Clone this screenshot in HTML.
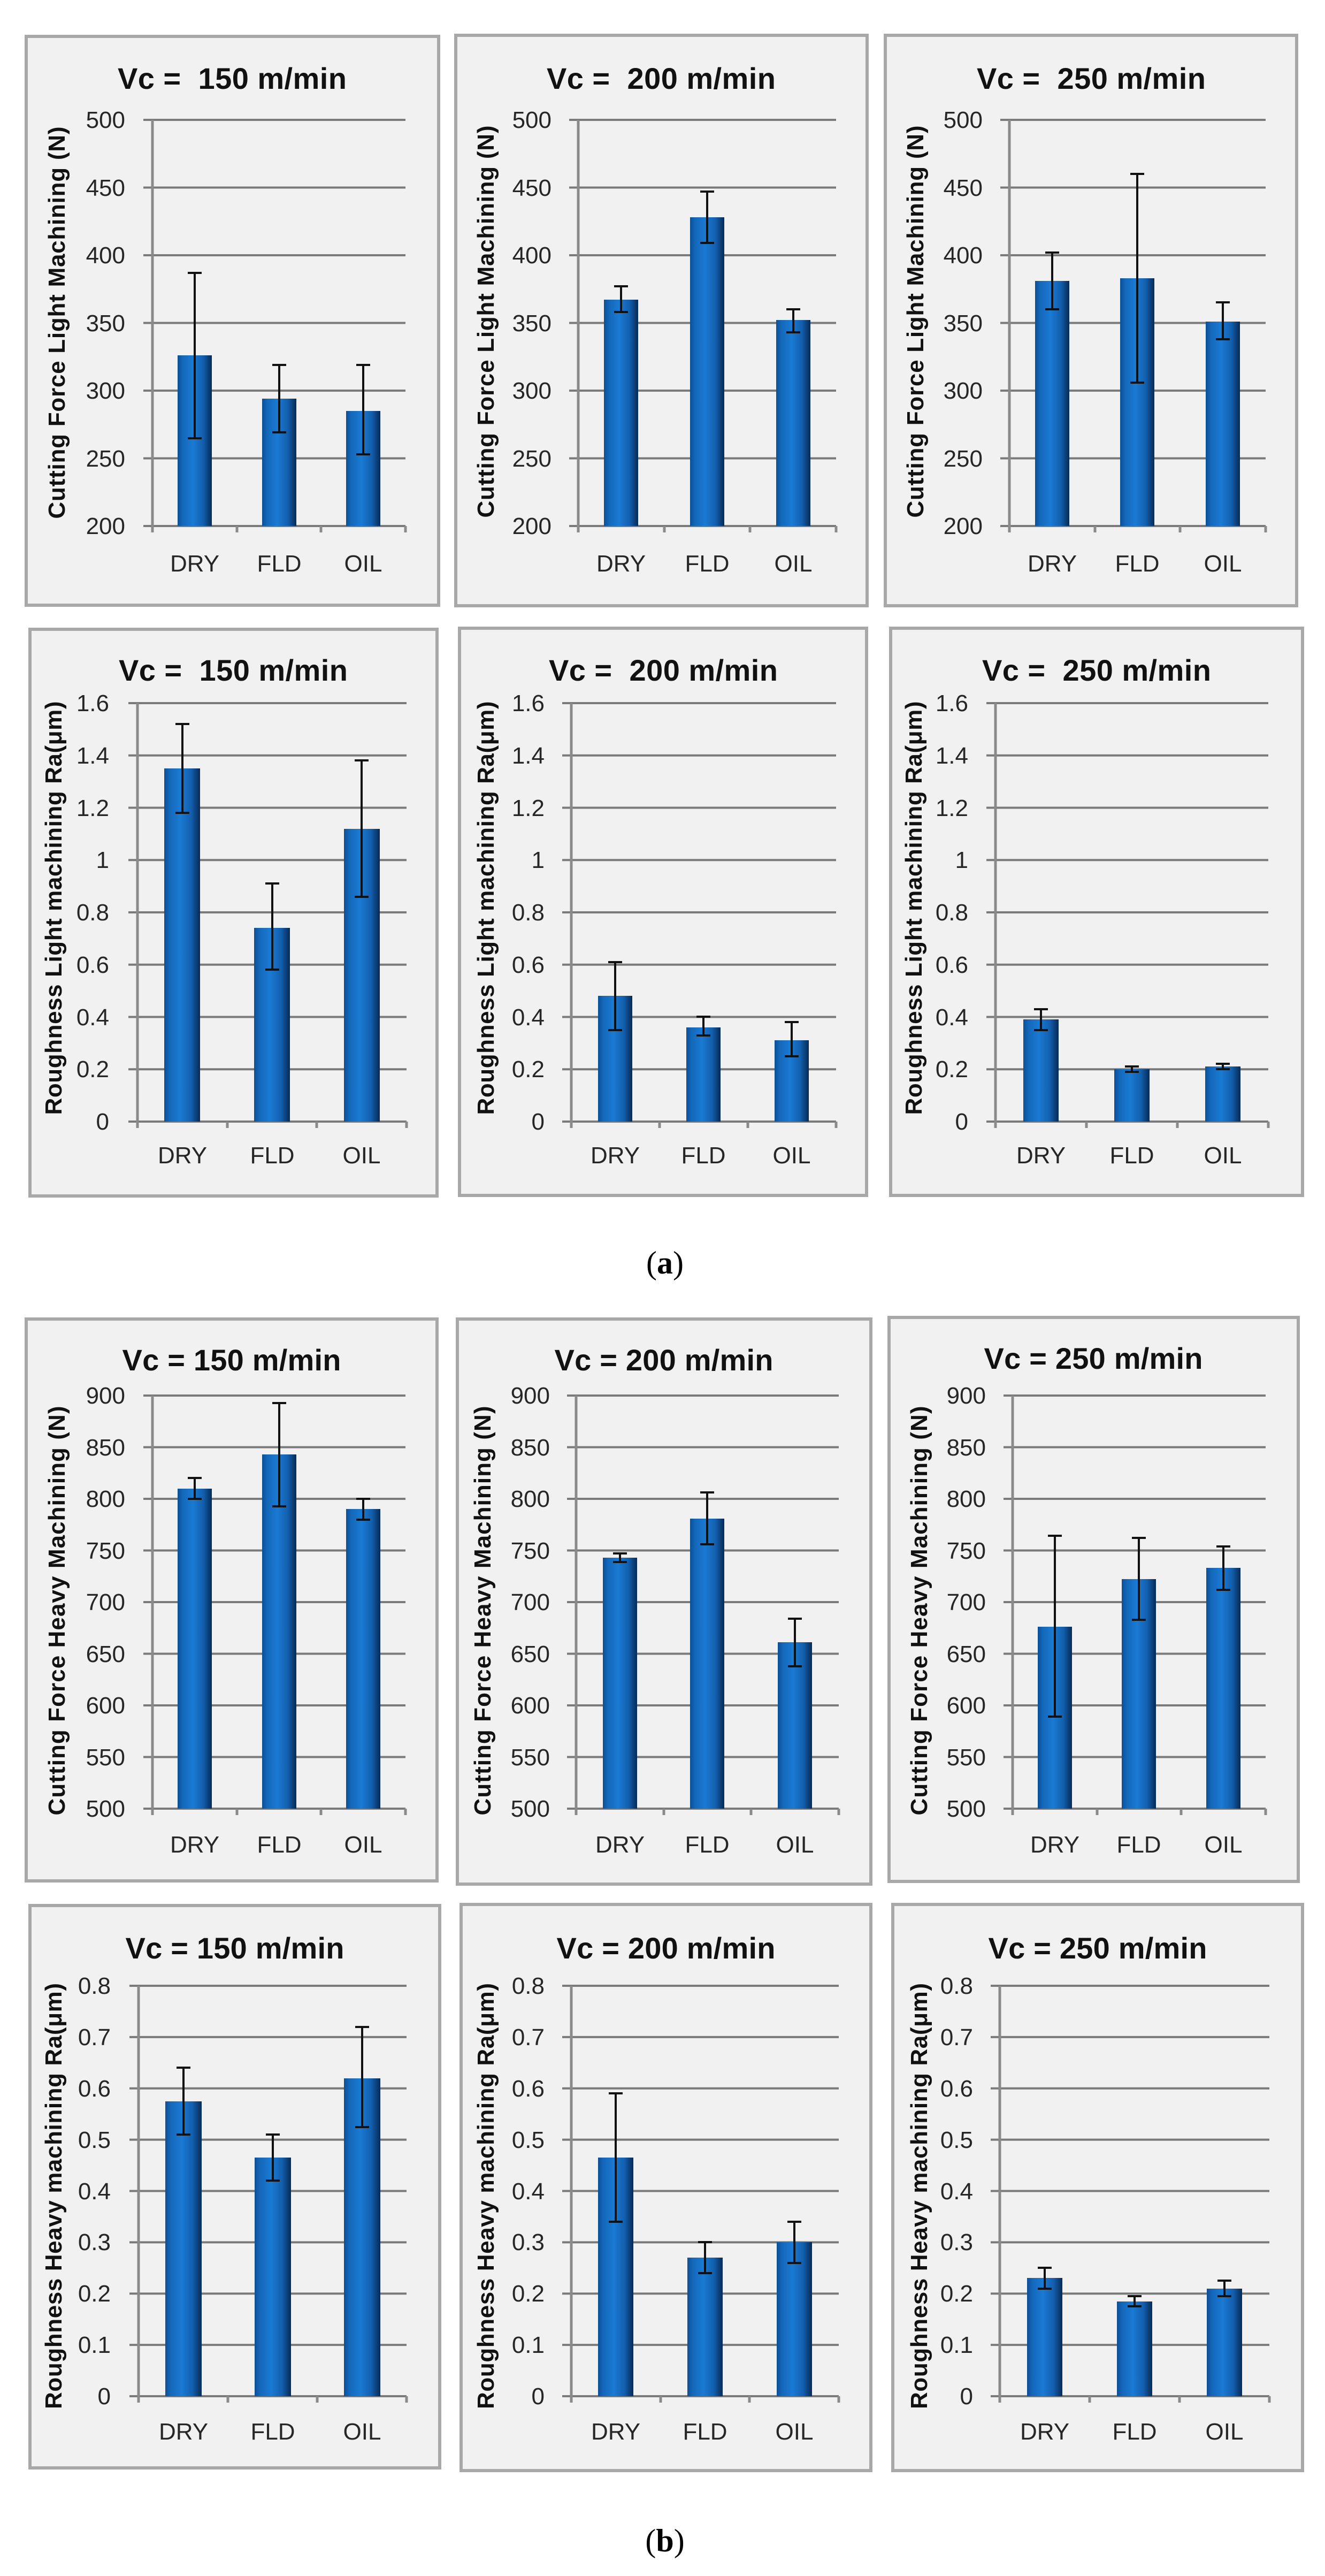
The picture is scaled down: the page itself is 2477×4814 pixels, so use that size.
<!DOCTYPE html>
<html><head><meta charset="utf-8"><style>
html,body{margin:0;padding:0;background:#fff;}
svg{display:block;}
text{font-family:"Liberation Sans",sans-serif;fill:#262626;white-space:pre;}
.t{font-weight:bold;font-size:56px;text-anchor:middle;fill:#111;}
.k{font-size:44px;text-anchor:end;fill:#333;}
.x{font-size:44px;text-anchor:middle;fill:#333;}
.y{font-weight:bold;font-size:44px;text-anchor:middle;fill:#111;}
.p{fill:#f1f1f1;stroke:#a8a8a8;stroke-width:6;}
.g{stroke:#7a7a7a;stroke-width:4;}
.a{stroke:#8a8a8a;stroke-width:5;}
.b{fill:url(#bg);}
.e{stroke:#111;stroke-width:4;fill:none;}
.h{fill:#3a9ae8;opacity:.6;}
</style></head><body>
<svg width="2477" height="4814" viewBox="0 0 2477 4814" xmlns="http://www.w3.org/2000/svg">
<defs>
<linearGradient id="bg" x1="0" x2="1" y1="0" y2="0">
<stop offset="0" stop-color="#0c4f98"/><stop offset="0.15" stop-color="#1468ba"/><stop offset="0.45" stop-color="#1a7ad3"/><stop offset="0.75" stop-color="#135fae"/><stop offset="1" stop-color="#072a55"/>
</linearGradient>
</defs>
<rect width="2477" height="4814" fill="#fff"/>

<!-- ROW 1 COL 1 -->
<rect class="p" x="49" y="68" width="771" height="1063"/>
<text class="t" x="434" y="166" textLength="428">Vc =  150 m/min</text>
<g class="g"><line x1="268" x2="758" y1="224" y2="224"/><line x1="268" x2="758" y1="350.5" y2="350.5"/><line x1="268" x2="758" y1="477" y2="477"/><line x1="268" x2="758" y1="603.5" y2="603.5"/><line x1="268" x2="758" y1="730" y2="730"/><line x1="268" x2="758" y1="856.5" y2="856.5"/><line x1="268" x2="758" y1="983" y2="983"/></g>
<g class="a"><line x1="285" x2="285" y1="224" y2="995"/><line x1="443" x2="443" y1="983" y2="995"/><line x1="600" x2="600" y1="983" y2="995"/><line x1="758" x2="758" y1="983" y2="995"/></g>
<g class="k"><text x="234" y="239">500</text><text x="234" y="366">450</text><text x="234" y="492">400</text><text x="234" y="619">350</text><text x="234" y="745">300</text><text x="234" y="872">250</text><text x="234" y="998">200</text></g>
<text class="y" transform="translate(106,603) rotate(-90)" y="15" textLength="733">Cutting Force Light Machining (N)</text>
<rect class="b" x="332" y="664" width="64" height="319"/><rect class="b" x="490" y="745" width="64" height="238"/><rect class="b" x="647" y="768" width="64" height="215"/>
<path class="e" d="M364 510V819M351 510h26M351 819h26M522 682V808M509 682h26M509 808h26M679 682V849M666 682h26M666 849h26"/>
<g class="x"><text x="364" y="1068">DRY</text><text x="522" y="1068">FLD</text><text x="679" y="1068">OIL</text></g>

<!-- ROW 1 COL 2 -->
<rect class="p" x="852" y="66" width="769" height="1066"/>
<text class="t" x="1236" y="166" textLength="428">Vc =  200 m/min</text>
<g class="g"><line x1="1064" x2="1563" y1="224" y2="224"/><line x1="1064" x2="1563" y1="350.5" y2="350.5"/><line x1="1064" x2="1563" y1="477" y2="477"/><line x1="1064" x2="1563" y1="603.5" y2="603.5"/><line x1="1064" x2="1563" y1="730" y2="730"/><line x1="1064" x2="1563" y1="856.5" y2="856.5"/><line x1="1064" x2="1563" y1="983" y2="983"/></g>
<g class="a"><line x1="1081" x2="1081" y1="224" y2="995"/><line x1="1242" x2="1242" y1="983" y2="995"/><line x1="1402" x2="1402" y1="983" y2="995"/><line x1="1563" x2="1563" y1="983" y2="995"/></g>
<g class="k"><text x="1031" y="239">500</text><text x="1031" y="366">450</text><text x="1031" y="492">400</text><text x="1031" y="619">350</text><text x="1031" y="745">300</text><text x="1031" y="872">250</text><text x="1031" y="998">200</text></g>
<text class="y" transform="translate(908,601) rotate(-90)" y="15" textLength="733">Cutting Force Light Machining (N)</text>
<rect class="b" x="1129" y="560" width="64" height="423"/><rect class="b" x="1290" y="406" width="64" height="577"/><rect class="b" x="1451" y="598" width="64" height="385"/>
<path class="e" d="M1161 535V583M1148 535h26M1148 583h26M1322 358V454M1309 358h26M1309 454h26M1483 578V621M1470 578h26M1470 621h26"/>
<g class="x"><text x="1161" y="1068">DRY</text><text x="1322" y="1068">FLD</text><text x="1483" y="1068">OIL</text></g>

<!-- ROW 1 COL 3 -->
<rect class="p" x="1655" y="66" width="769" height="1066"/>
<text class="t" x="2040" y="166" textLength="428">Vc =  250 m/min</text>
<g class="g"><line x1="1870" x2="2366" y1="224" y2="224"/><line x1="1870" x2="2366" y1="350.5" y2="350.5"/><line x1="1870" x2="2366" y1="477" y2="477"/><line x1="1870" x2="2366" y1="603.5" y2="603.5"/><line x1="1870" x2="2366" y1="730" y2="730"/><line x1="1870" x2="2366" y1="856.5" y2="856.5"/><line x1="1870" x2="2366" y1="983" y2="983"/></g>
<g class="a"><line x1="1887" x2="1887" y1="224" y2="995"/><line x1="2047" x2="2047" y1="983" y2="995"/><line x1="2206" x2="2206" y1="983" y2="995"/><line x1="2366" x2="2366" y1="983" y2="995"/></g>
<g class="k"><text x="1837" y="239">500</text><text x="1837" y="366">450</text><text x="1837" y="492">400</text><text x="1837" y="619">350</text><text x="1837" y="745">300</text><text x="1837" y="872">250</text><text x="1837" y="998">200</text></g>
<text class="y" transform="translate(1711,601) rotate(-90)" y="15" textLength="733">Cutting Force Light Machining (N)</text>
<rect class="b" x="1935" y="525" width="64" height="458"/><rect class="b" x="2094" y="520" width="64" height="463"/><rect class="b" x="2254" y="601" width="64" height="382"/>
<path class="e" d="M1967 472V578M1954 472h26M1954 578h26M2126 325V715M2113 325h26M2113 715h26M2286 565V634M2273 565h26M2273 634h26"/>
<g class="x"><text x="1967" y="1068">DRY</text><text x="2126" y="1068">FLD</text><text x="2286" y="1068">OIL</text></g>

<!-- ROW 2 COL 1 -->
<rect class="p" x="56" y="1176" width="761" height="1059"/>
<text class="t" x="436" y="1272" textLength="428">Vc =  150 m/min</text>
<g class="g"><line x1="240" x2="760" y1="1314" y2="1314"/><line x1="240" x2="760" y1="1411.75" y2="1411.75"/><line x1="240" x2="760" y1="1509.5" y2="1509.5"/><line x1="240" x2="760" y1="1607.25" y2="1607.25"/><line x1="240" x2="760" y1="1705" y2="1705"/><line x1="240" x2="760" y1="1802.75" y2="1802.75"/><line x1="240" x2="760" y1="1900.5" y2="1900.5"/><line x1="240" x2="760" y1="1998.25" y2="1998.25"/><line x1="240" x2="760" y1="2096" y2="2096"/></g>
<g class="a"><line x1="257" x2="257" y1="1314" y2="2108"/><line x1="425" x2="425" y1="2096" y2="2108"/><line x1="592" x2="592" y1="2096" y2="2108"/><line x1="760" x2="760" y1="2096" y2="2108"/></g>
<g class="k"><text x="204" y="1329">1.6</text><text x="204" y="1427">1.4</text><text x="204" y="1525">1.2</text><text x="204" y="1622">1</text><text x="204" y="1720">0.8</text><text x="204" y="1818">0.6</text><text x="204" y="1916">0.4</text><text x="204" y="2013">0.2</text><text x="204" y="2111">0</text></g>
<text class="y" transform="translate(100,1697) rotate(-90)" y="15" textLength="773">Roughness Light machining Ra(μm)</text>
<rect class="b" x="307" y="1436" width="67" height="660"/><rect class="b" x="475" y="1734" width="67" height="362"/><rect class="b" x="643" y="1549" width="67" height="547"/>
<path class="e" d="M341 1353V1519M328 1353h26M328 1519h26M509 1651V1812M496 1651h26M496 1812h26M676 1421V1676M663 1421h26M663 1676h26"/>
<g class="x"><text x="341" y="2174">DRY</text><text x="509" y="2174">FLD</text><text x="676" y="2174">OIL</text></g>

<!-- ROW 2 COL 2 -->
<rect class="p" x="859" y="1174" width="761" height="1060"/>
<text class="t" x="1240" y="1272" textLength="428">Vc =  200 m/min</text>
<g class="g"><line x1="1051" x2="1563" y1="1314" y2="1314"/><line x1="1051" x2="1563" y1="1411.75" y2="1411.75"/><line x1="1051" x2="1563" y1="1509.5" y2="1509.5"/><line x1="1051" x2="1563" y1="1607.25" y2="1607.25"/><line x1="1051" x2="1563" y1="1705" y2="1705"/><line x1="1051" x2="1563" y1="1802.75" y2="1802.75"/><line x1="1051" x2="1563" y1="1900.5" y2="1900.5"/><line x1="1051" x2="1563" y1="1998.25" y2="1998.25"/><line x1="1051" x2="1563" y1="2096" y2="2096"/></g>
<g class="a"><line x1="1068" x2="1068" y1="1314" y2="2108"/><line x1="1233" x2="1233" y1="2096" y2="2108"/><line x1="1398" x2="1398" y1="2096" y2="2108"/><line x1="1563" x2="1563" y1="2096" y2="2108"/></g>
<g class="k"><text x="1018" y="1329">1.6</text><text x="1018" y="1427">1.4</text><text x="1018" y="1525">1.2</text><text x="1018" y="1622">1</text><text x="1018" y="1720">0.8</text><text x="1018" y="1818">0.6</text><text x="1018" y="1916">0.4</text><text x="1018" y="2013">0.2</text><text x="1018" y="2111">0</text></g>
<text class="y" transform="translate(908,1697) rotate(-90)" y="15" textLength="773">Roughness Light machining Ra(μm)</text>
<rect class="b" x="1118" y="1861" width="64" height="235"/><rect class="b" x="1283" y="1920" width="64" height="176"/><rect class="b" x="1448" y="1944" width="64" height="152"/>
<path class="e" d="M1150 1798V1925M1137 1798h26M1137 1925h26M1315 1900V1935M1302 1900h26M1302 1935h26M1480 1910V1974M1467 1910h26M1467 1974h26"/>
<g class="x"><text x="1150" y="2174">DRY</text><text x="1315" y="2174">FLD</text><text x="1480" y="2174">OIL</text></g>

<!-- ROW 2 COL 3 -->
<rect class="p" x="1665" y="1174" width="770" height="1060"/>
<text class="t" x="2050" y="1272" textLength="428">Vc =  250 m/min</text>
<g class="g"><line x1="1844" x2="2371" y1="1314" y2="1314"/><line x1="1844" x2="2371" y1="1411.75" y2="1411.75"/><line x1="1844" x2="2371" y1="1509.5" y2="1509.5"/><line x1="1844" x2="2371" y1="1607.25" y2="1607.25"/><line x1="1844" x2="2371" y1="1705" y2="1705"/><line x1="1844" x2="2371" y1="1802.75" y2="1802.75"/><line x1="1844" x2="2371" y1="1900.5" y2="1900.5"/><line x1="1844" x2="2371" y1="1998.25" y2="1998.25"/><line x1="1844" x2="2371" y1="2096" y2="2096"/></g>
<g class="a"><line x1="1861" x2="1861" y1="1314" y2="2108"/><line x1="2031" x2="2031" y1="2096" y2="2108"/><line x1="2201" x2="2201" y1="2096" y2="2108"/><line x1="2371" x2="2371" y1="2096" y2="2108"/></g>
<g class="k"><text x="1810" y="1329">1.6</text><text x="1810" y="1427">1.4</text><text x="1810" y="1525">1.2</text><text x="1810" y="1622">1</text><text x="1810" y="1720">0.8</text><text x="1810" y="1818">0.6</text><text x="1810" y="1916">0.4</text><text x="1810" y="2013">0.2</text><text x="1810" y="2111">0</text></g>
<text class="y" transform="translate(1708,1697) rotate(-90)" y="15" textLength="773">Roughness Light machining Ra(μm)</text>
<rect class="b" x="1913" y="1905" width="66" height="191"/><rect class="b" x="2083" y="1998" width="66" height="98"/><rect class="b" x="2253" y="1993" width="66" height="103"/>
<path class="e" d="M1946 1886V1925M1933 1886h26M1933 1925h26M2116 1993V2003M2103 1993h26M2103 2003h26M2286 1988V1998M2273 1988h26M2273 1998h26"/>
<g class="x"><text x="1946" y="2174">DRY</text><text x="2116" y="2174">FLD</text><text x="2286" y="2174">OIL</text></g>

<text x="1243" y="2380" style="font-family:'Liberation Serif',serif;font-size:60px;text-anchor:middle;fill:#000">(<tspan font-weight="bold">a</tspan>)</text>

<!-- ROW 3 COL 1 -->
<rect class="p" x="49" y="2465" width="768" height="1050"/>
<text class="t" x="433" y="2561" textLength="409">Vc = 150 m/min</text>
<g class="g"><line x1="268" x2="758" y1="2608" y2="2608"/><line x1="268" x2="758" y1="2704.5" y2="2704.5"/><line x1="268" x2="758" y1="2801" y2="2801"/><line x1="268" x2="758" y1="2897.5" y2="2897.5"/><line x1="268" x2="758" y1="2994" y2="2994"/><line x1="268" x2="758" y1="3090.5" y2="3090.5"/><line x1="268" x2="758" y1="3187" y2="3187"/><line x1="268" x2="758" y1="3283.5" y2="3283.5"/><line x1="268" x2="758" y1="3380" y2="3380"/></g>
<g class="a"><line x1="285" x2="285" y1="2608" y2="3392"/><line x1="443" x2="443" y1="3380" y2="3392"/><line x1="600" x2="600" y1="3380" y2="3392"/><line x1="758" x2="758" y1="3380" y2="3392"/></g>
<g class="k"><text x="234" y="2623">900</text><text x="234" y="2720">850</text><text x="234" y="2816">800</text><text x="234" y="2913">750</text><text x="234" y="3009">700</text><text x="234" y="3106">650</text><text x="234" y="3202">600</text><text x="234" y="3299">550</text><text x="234" y="3395">500</text></g>
<text class="y" transform="translate(106,3010) rotate(-90)" y="15" textLength="765">Cutting Force Heavy Machining (N)</text>
<rect class="b" x="332" y="2782" width="64" height="598"/><rect class="b" x="490" y="2718" width="64" height="662"/><rect class="b" x="647" y="2820" width="64" height="560"/>
<path class="e" d="M364 2762V2801M351 2762h26M351 2801h26M522 2622V2815M509 2622h26M509 2815h26M679 2801V2840M666 2801h26M666 2840h26"/>
<g class="x"><text x="364" y="3462">DRY</text><text x="522" y="3462">FLD</text><text x="679" y="3462">OIL</text></g>

<!-- ROW 3 COL 2 -->
<rect class="p" x="855" y="2465" width="773" height="1056"/>
<text class="t" x="1241" y="2561" textLength="409">Vc = 200 m/min</text>
<g class="g"><line x1="1060" x2="1568" y1="2608" y2="2608"/><line x1="1060" x2="1568" y1="2704.5" y2="2704.5"/><line x1="1060" x2="1568" y1="2801" y2="2801"/><line x1="1060" x2="1568" y1="2897.5" y2="2897.5"/><line x1="1060" x2="1568" y1="2994" y2="2994"/><line x1="1060" x2="1568" y1="3090.5" y2="3090.5"/><line x1="1060" x2="1568" y1="3187" y2="3187"/><line x1="1060" x2="1568" y1="3283.5" y2="3283.5"/><line x1="1060" x2="1568" y1="3380" y2="3380"/></g>
<g class="a"><line x1="1077" x2="1077" y1="2608" y2="3392"/><line x1="1241" x2="1241" y1="3380" y2="3392"/><line x1="1404" x2="1404" y1="3380" y2="3392"/><line x1="1568" x2="1568" y1="3380" y2="3392"/></g>
<g class="k"><text x="1028" y="2623">900</text><text x="1028" y="2720">850</text><text x="1028" y="2816">800</text><text x="1028" y="2913">750</text><text x="1028" y="3009">700</text><text x="1028" y="3106">650</text><text x="1028" y="3202">600</text><text x="1028" y="3299">550</text><text x="1028" y="3395">500</text></g>
<text class="y" transform="translate(902,3010) rotate(-90)" y="15" textLength="765">Cutting Force Heavy Machining (N)</text>
<rect class="b" x="1127" y="2911" width="64" height="469"/><rect class="b" x="1290" y="2838" width="64" height="542"/><rect class="b" x="1454" y="3069" width="64" height="311"/>
<path class="e" d="M1159 2903V2919M1146 2903h26M1146 2919h26M1322 2789V2886M1309 2789h26M1309 2886h26M1486 3025V3114M1473 3025h26M1473 3114h26"/>
<g class="x"><text x="1159" y="3462">DRY</text><text x="1322" y="3462">FLD</text><text x="1486" y="3462">OIL</text></g>

<!-- ROW 3 COL 3 -->
<rect class="p" x="1662" y="2462" width="765" height="1054"/>
<text class="t" x="2044" y="2558" textLength="409">Vc = 250 m/min</text>
<g class="g"><line x1="1876" x2="2366" y1="2608" y2="2608"/><line x1="1876" x2="2366" y1="2704.5" y2="2704.5"/><line x1="1876" x2="2366" y1="2801" y2="2801"/><line x1="1876" x2="2366" y1="2897.5" y2="2897.5"/><line x1="1876" x2="2366" y1="2994" y2="2994"/><line x1="1876" x2="2366" y1="3090.5" y2="3090.5"/><line x1="1876" x2="2366" y1="3187" y2="3187"/><line x1="1876" x2="2366" y1="3283.5" y2="3283.5"/><line x1="1876" x2="2366" y1="3380" y2="3380"/></g>
<g class="a"><line x1="1893" x2="1893" y1="2608" y2="3392"/><line x1="2051" x2="2051" y1="3380" y2="3392"/><line x1="2208" x2="2208" y1="3380" y2="3392"/><line x1="2366" x2="2366" y1="3380" y2="3392"/></g>
<g class="k"><text x="1843" y="2623">900</text><text x="1843" y="2720">850</text><text x="1843" y="2816">800</text><text x="1843" y="2913">750</text><text x="1843" y="3009">700</text><text x="1843" y="3106">650</text><text x="1843" y="3202">600</text><text x="1843" y="3299">550</text><text x="1843" y="3395">500</text></g>
<text class="y" transform="translate(1718,3010) rotate(-90)" y="15" textLength="765">Cutting Force Heavy Machining (N)</text>
<rect class="b" x="1940" y="3040" width="64" height="340"/><rect class="b" x="2097" y="2951" width="64" height="429"/><rect class="b" x="2255" y="2930" width="64" height="450"/>
<path class="e" d="M1972 2870V3208M1959 2870h26M1959 3208h26M2129 2874V3027M2116 2874h26M2116 3027h26M2287 2890V2971M2274 2890h26M2274 2971h26"/>
<g class="x"><text x="1972" y="3462">DRY</text><text x="2129" y="3462">FLD</text><text x="2287" y="3462">OIL</text></g>

<!-- ROW 4 COL 1 -->
<rect class="p" x="56" y="3561" width="766" height="1051"/>
<text class="t" x="439" y="3660" textLength="409">Vc = 150 m/min</text>
<g class="g"><line x1="242" x2="760" y1="3711" y2="3711"/><line x1="242" x2="760" y1="3806.9" y2="3806.9"/><line x1="242" x2="760" y1="3902.75" y2="3902.75"/><line x1="242" x2="760" y1="3998.6" y2="3998.6"/><line x1="242" x2="760" y1="4094.5" y2="4094.5"/><line x1="242" x2="760" y1="4190.4" y2="4190.4"/><line x1="242" x2="760" y1="4286.25" y2="4286.25"/><line x1="242" x2="760" y1="4382.1" y2="4382.1"/><line x1="242" x2="760" y1="4478" y2="4478"/></g>
<g class="a"><line x1="259" x2="259" y1="3711" y2="4490"/><line x1="426" x2="426" y1="4478" y2="4490"/><line x1="593" x2="593" y1="4478" y2="4490"/><line x1="760" x2="760" y1="4478" y2="4490"/></g>
<g class="k"><text x="207" y="3726">0.8</text><text x="207" y="3822">0.7</text><text x="207" y="3918">0.6</text><text x="207" y="4014">0.5</text><text x="207" y="4110">0.4</text><text x="207" y="4205">0.3</text><text x="207" y="4301">0.2</text><text x="207" y="4397">0.1</text><text x="207" y="4493">0</text></g>
<text class="y" transform="translate(100,4104) rotate(-90)" y="15" textLength="796">Roughness Heavy machining Ra(μm)</text>
<rect class="b" x="309" y="3927" width="68" height="551"/><rect class="b" x="476" y="4032" width="68" height="446"/><rect class="b" x="643" y="3884" width="68" height="594"/>
<path class="e" d="M343 3864V3989M330 3864h26M330 3989h26M510 3989V4075M497 3989h26M497 4075h26M677 3788V3975M664 3788h26M664 3975h26"/>
<g class="x"><text x="343" y="4559">DRY</text><text x="510" y="4559">FLD</text><text x="677" y="4559">OIL</text></g>

<!-- ROW 4 COL 2 -->
<rect class="p" x="862" y="3559" width="766" height="1058"/>
<text class="t" x="1245" y="3660" textLength="409">Vc = 200 m/min</text>
<g class="g"><line x1="1051" x2="1568" y1="3711" y2="3711"/><line x1="1051" x2="1568" y1="3806.9" y2="3806.9"/><line x1="1051" x2="1568" y1="3902.75" y2="3902.75"/><line x1="1051" x2="1568" y1="3998.6" y2="3998.6"/><line x1="1051" x2="1568" y1="4094.5" y2="4094.5"/><line x1="1051" x2="1568" y1="4190.4" y2="4190.4"/><line x1="1051" x2="1568" y1="4286.25" y2="4286.25"/><line x1="1051" x2="1568" y1="4382.1" y2="4382.1"/><line x1="1051" x2="1568" y1="4478" y2="4478"/></g>
<g class="a"><line x1="1068" x2="1068" y1="3711" y2="4490"/><line x1="1235" x2="1235" y1="4478" y2="4490"/><line x1="1401" x2="1401" y1="4478" y2="4490"/><line x1="1568" x2="1568" y1="4478" y2="4490"/></g>
<g class="k"><text x="1018" y="3726">0.8</text><text x="1018" y="3822">0.7</text><text x="1018" y="3918">0.6</text><text x="1018" y="4014">0.5</text><text x="1018" y="4110">0.4</text><text x="1018" y="4205">0.3</text><text x="1018" y="4301">0.2</text><text x="1018" y="4397">0.1</text><text x="1018" y="4493">0</text></g>
<text class="y" transform="translate(908,4104) rotate(-90)" y="15" textLength="796">Roughness Heavy machining Ra(μm)</text>
<rect class="b" x="1118" y="4032" width="66" height="446"/><rect class="b" x="1285" y="4219" width="66" height="259"/><rect class="b" x="1452" y="4190" width="66" height="288"/>
<path class="e" d="M1151 3912V4152M1138 3912h26M1138 4152h26M1318 4190V4248M1305 4190h26M1305 4248h26M1485 4152V4229M1472 4152h26M1472 4229h26"/>
<g class="x"><text x="1151" y="4559">DRY</text><text x="1318" y="4559">FLD</text><text x="1485" y="4559">OIL</text></g>

<!-- ROW 4 COL 3 -->
<rect class="p" x="1669" y="3559" width="766" height="1058"/>
<text class="t" x="2052" y="3660" textLength="409">Vc = 250 m/min</text>
<g class="g"><line x1="1852" x2="2373" y1="3711" y2="3711"/><line x1="1852" x2="2373" y1="3806.9" y2="3806.9"/><line x1="1852" x2="2373" y1="3902.75" y2="3902.75"/><line x1="1852" x2="2373" y1="3998.6" y2="3998.6"/><line x1="1852" x2="2373" y1="4094.5" y2="4094.5"/><line x1="1852" x2="2373" y1="4190.4" y2="4190.4"/><line x1="1852" x2="2373" y1="4286.25" y2="4286.25"/><line x1="1852" x2="2373" y1="4382.1" y2="4382.1"/><line x1="1852" x2="2373" y1="4478" y2="4478"/></g>
<g class="a"><line x1="1869" x2="1869" y1="3711" y2="4490"/><line x1="2037" x2="2037" y1="4478" y2="4490"/><line x1="2205" x2="2205" y1="4478" y2="4490"/><line x1="2373" x2="2373" y1="4478" y2="4490"/></g>
<g class="k"><text x="1819" y="3726">0.8</text><text x="1819" y="3822">0.7</text><text x="1819" y="3918">0.6</text><text x="1819" y="4014">0.5</text><text x="1819" y="4110">0.4</text><text x="1819" y="4205">0.3</text><text x="1819" y="4301">0.2</text><text x="1819" y="4397">0.1</text><text x="1819" y="4493">0</text></g>
<text class="y" transform="translate(1718,4104) rotate(-90)" y="15" textLength="796">Roughness Heavy machining Ra(μm)</text>
<rect class="b" x="1920" y="4257" width="66" height="221"/><rect class="b" x="2088" y="4301" width="66" height="177"/><rect class="b" x="2256" y="4277" width="66" height="201"/>
<path class="e" d="M1953 4238V4277M1940 4238h26M1940 4277h26M2121 4291V4310M2108 4291h26M2108 4310h26M2289 4262V4291M2276 4262h26M2276 4291h26"/>
<g class="x"><text x="1953" y="4559">DRY</text><text x="2121" y="4559">FLD</text><text x="2289" y="4559">OIL</text></g>

<text x="1243" y="4768" style="font-family:'Liberation Serif',serif;font-size:60px;text-anchor:middle;fill:#000">(<tspan font-weight="bold">b</tspan>)</text>
</svg>
</body></html>
